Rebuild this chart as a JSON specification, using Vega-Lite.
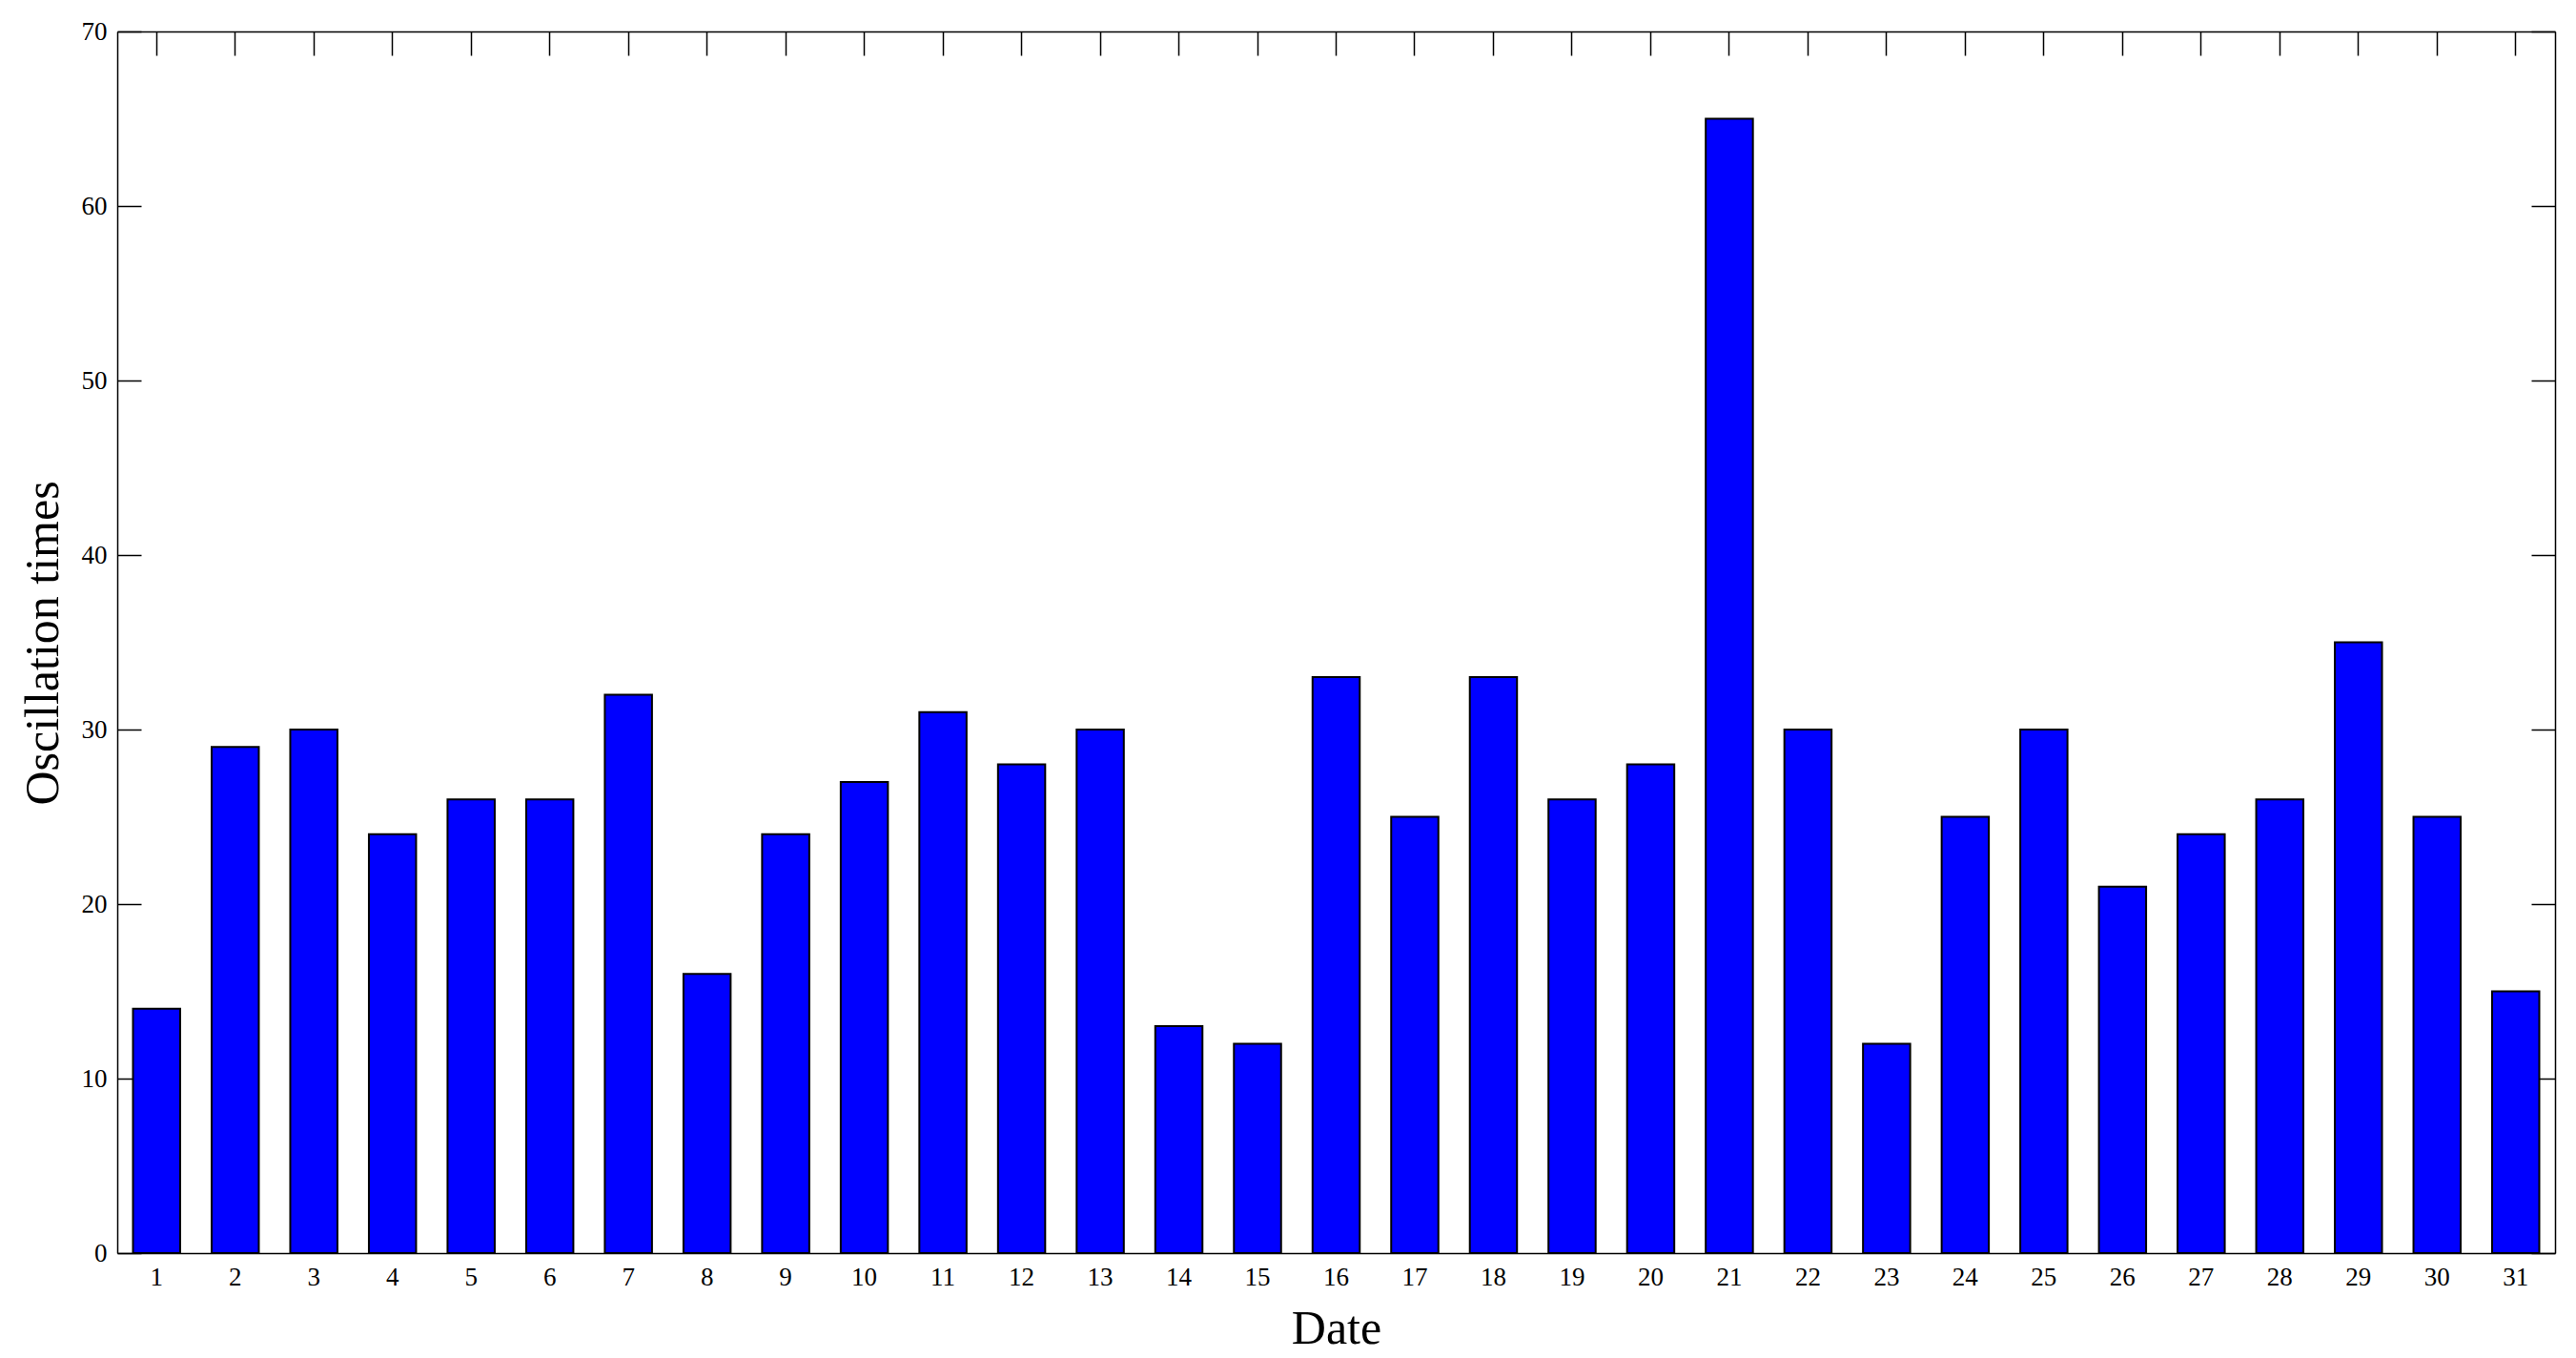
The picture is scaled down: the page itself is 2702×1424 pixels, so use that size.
{
  "$schema": "https://vega.github.io/schema/vega-lite/v6.json",
  "autosize": "none",
  "width": 2557,
  "height": 1281,
  "padding": {"left": 123, "top": 33, "right": 22, "bottom": 110},
  "background": "white",
  "config": {
    "view": {"stroke": null},
    "font": "Liberation Serif",
    "axis": {
      "domainColor": "black",
      "domainWidth": 1.5,
      "tickColor": "black",
      "tickWidth": 1.5,
      "tickSize": -25,
      "grid": false,
      "labelFont": "Liberation Serif",
      "labelFontSize": 27,
      "labelColor": "black",
      "titleFont": "Liberation Serif",
      "titleFontSize": 50,
      "titleFontWeight": "normal",
      "titleColor": "black"
    }
  },
  "data": {
    "values": [
      {"date": 1, "count": 14}, {"date": 2, "count": 29}, {"date": 3, "count": 30},
      {"date": 4, "count": 24}, {"date": 5, "count": 26}, {"date": 6, "count": 26},
      {"date": 7, "count": 32}, {"date": 8, "count": 16}, {"date": 9, "count": 24},
      {"date": 10, "count": 27}, {"date": 11, "count": 31}, {"date": 12, "count": 28},
      {"date": 13, "count": 30}, {"date": 14, "count": 13}, {"date": 15, "count": 12},
      {"date": 16, "count": 33}, {"date": 17, "count": 25}, {"date": 18, "count": 33},
      {"date": 19, "count": 26}, {"date": 20, "count": 28}, {"date": 21, "count": 65},
      {"date": 22, "count": 30}, {"date": 23, "count": 12}, {"date": 24, "count": 25},
      {"date": 25, "count": 30}, {"date": 26, "count": 21}, {"date": 27, "count": 24},
      {"date": 28, "count": 26}, {"date": 29, "count": 35}, {"date": 30, "count": 25},
      {"date": 31, "count": 15}
    ]
  },
  "layer": [
    {
      "mark": {"type": "bar", "fill": "#0000ff", "stroke": "black", "strokeWidth": 2},
      "encoding": {
        "x": {
          "field": "date",
          "type": "ordinal",
          "scale": {"paddingInner": 0.4, "paddingOuter": 0.2},
          "axis": {
            "orient": "bottom",
            "title": "Date",
            "labelAngle": 0,
            "labelPadding": 37,
            "zindex": 0,
            "titleBaseline": "alphabetic",
            "titleY": 94
          }
        },
        "y": {
          "field": "count",
          "type": "quantitative",
          "scale": {"domain": [0, 70], "nice": false},
          "axis": {
            "orient": "left",
            "title": "Oscillation times",
            "values": [0, 10, 20, 30, 40, 50, 60, 70],
            "labelPadding": 36,
            "titleAngle": -90,
            "titleBaseline": "alphabetic",
            "titleAlign": "center",
            "titleX": -63,
            "titleY": 641
          }
        }
      }
    },
    {
      "mark": {"type": "bar", "opacity": 0},
      "encoding": {
        "x": {
          "field": "date",
          "type": "ordinal",
          "axis": {"orient": "top", "title": null, "labels": false}
        },
        "y": {
          "field": "count",
          "type": "quantitative",
          "axis": {"orient": "right", "title": null, "labels": false, "values": [0, 10, 20, 30, 40, 50, 60, 70]}
        }
      }
    }
  ],
  "resolve": {"axis": {"x": "independent", "y": "independent"}}
}
